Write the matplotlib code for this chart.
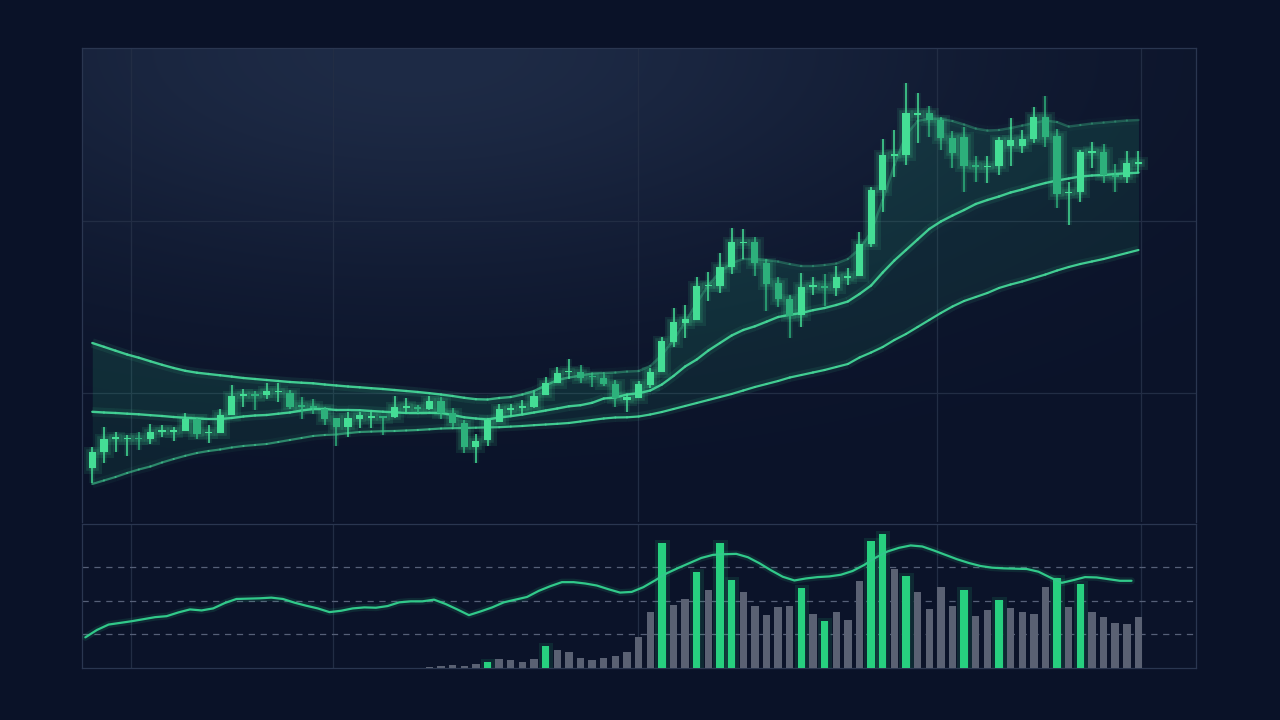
import numpy as np
import matplotlib
matplotlib.use("Agg")
import matplotlib.pyplot as plt
from matplotlib import patheffects as pe
from matplotlib.collections import LineCollection
from matplotlib.colors import to_rgba, to_rgb

# ---------------- data ----------------
opens = [132.3, 148.0, 161.0, 160.7, 161.9, 161.3, 168.1, 167.7, 169.3, 181.3,
         166.7, 167.0, 185.3, 204.4, 205.1, 205.0, 207.7, 207.3, 194.6, 193.3,
         191.3, 181.7, 173.3, 181.0, 182.1, 183.3, 183.3, 192.4, 192.3, 191.0,
         199.0, 187.3, 177.3, 152.7, 160.0, 178.3, 190.4, 192.1, 192.7, 205.0,
         216.7, 227.7, 227.7, 223.9, 222.3, 215.7, 199.7, 202.3, 215.0, 228.3,
         258.3, 276.7, 280.0, 313.7, 314.3, 333.3, 356.7, 358.3, 337.3, 316.7,
         301.0, 285.0, 312.9, 313.1, 312.3, 321.7, 324.0, 355.7, 410.3, 444.4,
         445.0, 485.0, 487.3, 480.5, 462.5, 462.7, 434.1, 432.7, 433.7, 454.3,
         454.3, 460.8, 482.7, 464.0, 406.7, 408.3, 446.8, 448.3, 425.3, 423.3,
         436.0]
closes = [147.7, 161.3, 162.2, 161.9, 160.7, 168.0, 169.3, 170.0, 180.7, 166.0,
          167.9, 185.3, 204.3, 205.6, 203.9, 209.0, 208.9, 193.3, 193.4, 192.1,
          181.3, 173.3, 182.3, 185.0, 183.3, 182.1, 193.3, 193.6, 191.1, 199.0,
          187.3, 177.3, 153.3, 159.3, 180.0, 190.7, 191.6, 193.3, 204.0, 217.3,
          227.3, 228.9, 222.3, 222.7, 215.7, 201.7, 203.3, 215.7, 228.3, 259.0,
          277.7, 281.0, 314.3, 314.9, 333.3, 357.7, 357.9, 336.7, 316.0, 300.7,
          284.5, 313.3, 314.1, 311.9, 323.0, 324.0, 356.0, 410.0, 445.3, 445.6,
          487.3, 487.3, 480.0, 462.0, 447.5, 434.0, 432.9, 433.9, 460.0, 459.7,
          460.7, 482.7, 463.3, 406.3, 408.5, 447.7, 448.5, 425.0, 423.0, 437.3,
          437.1]
highs = [152.7, 173.3, 168.3, 164.7, 168.0, 175.7, 174.7, 173.3, 187.3, 183.0,
         175.0, 190.7, 215.0, 211.3, 209.0, 217.3, 216.7, 210.0, 202.7, 200.7,
         193.3, 181.7, 187.7, 187.7, 188.3, 184.0, 204.3, 202.3, 195.0, 204.3,
         202.7, 191.7, 180.0, 165.7, 181.7, 196.0, 196.0, 200.0, 208.3, 223.0,
         233.3, 240.7, 235.0, 227.3, 226.0, 220.0, 206.0, 219.0, 231.7, 262.7,
         292.3, 295.0, 322.7, 327.7, 347.3, 371.7, 370.7, 363.3, 340.7, 322.7,
         305.0, 326.7, 323.0, 326.5, 334.0, 331.7, 368.3, 413.3, 460.8, 470.5,
         517.5, 506.7, 494.0, 483.3, 469.2, 472.7, 444.0, 444.0, 463.3, 481.7,
         470.0, 493.0, 504.0, 471.2, 418.3, 450.3, 458.3, 455.8, 435.7, 449.2,
         449.5]
lows = [116.7, 136.7, 148.3, 144.0, 150.0, 156.0, 162.7, 158.7, 169.3, 160.7,
        156.7, 167.0, 185.3, 193.3, 190.0, 200.7, 198.3, 191.0, 181.0, 186.0,
        175.0, 154.3, 163.3, 172.3, 172.3, 165.0, 181.7, 187.7, 186.7, 190.0,
        180.7, 172.7, 146.7, 137.3, 154.0, 178.3, 184.0, 186.0, 191.7, 205.0,
        216.7, 220.7, 216.7, 213.3, 214.0, 193.3, 188.3, 202.0, 211.7, 228.3,
        252.7, 262.3, 280.0, 299.3, 306.7, 326.0, 340.7, 324.0, 289.3, 292.7,
        261.7, 273.0, 305.0, 294.0, 304.0, 314.7, 323.7, 353.3, 388.3, 423.3,
        435.0, 456.7, 463.3, 450.0, 432.5, 408.0, 418.0, 417.0, 425.0, 434.5,
        447.3, 457.5, 453.3, 392.5, 375.3, 398.3, 432.5, 417.0, 408.3, 416.7,
        426.7]

upper_band = [257, 253.2, 249.3, 245.5, 242.3, 238.7, 235.2, 232, 229.2, 227.3,
              226, 224.7, 223.4, 222, 221, 220, 219, 218, 217.3, 216.7,
              215.5, 214.5, 213.5, 212.7, 211.8, 211, 210, 209, 208, 206.8,
              205.5, 204, 202.2, 200.8, 200.5, 202, 203, 205.5, 209, 214.5,
              220, 222.5, 224.5, 226.5, 227, 227.5, 228.5, 229, 234, 245,
              260, 278, 297, 315, 328, 337, 341, 341, 340, 338.5,
              336, 334, 334, 335, 336.5, 341, 351, 368, 400, 435,
              465, 479, 481.5, 481, 479, 475.5, 471.5, 469.5, 470, 472,
              474.5, 477, 479.5, 478, 473.5, 475, 476.5, 477.5, 478.5, 479.5,
              480]
middle_band = [188.2, 187.5, 187, 186.3, 185.7, 184.8, 184, 183, 182.2, 181.5,
               181, 181, 182, 183.5, 184.5, 185, 186.3, 187.5, 189.5, 191,
               191, 190, 190, 189.8, 189, 188.3, 187.7, 187, 187, 187.2,
               187, 185, 182.7, 181.5, 180.5, 182.5, 183.8, 185.5, 187.5, 189.5,
               191.5, 193.7, 194.8, 197.2, 201.5, 202.5, 205.5, 206.7, 209.5, 215.5,
               224, 233.5, 240.5, 249.5, 257, 264.5, 270, 273.7, 278.3, 283,
               285.2, 287, 289.8, 292, 295, 298.5, 306, 314.5, 327.5, 339.5,
               350, 360.5, 371, 378.5, 384.5, 390, 396, 400, 403.5, 407.5,
               410.5, 414, 417, 419.5, 421.5, 423.5, 424.5, 425, 426, 426.7,
               427.3]
lower_band = [116, 119.5, 123, 127, 130.5, 133.5, 137.5, 141, 144.2, 147,
              149, 150.5, 152.5, 154, 155, 156, 158, 160, 162, 164,
              165, 165.5, 166.8, 168, 168.4, 168.8, 169, 169.5, 170, 170.7,
              171.5, 171.8, 172, 172.3, 172.6, 172.8, 173.4, 174, 174.8, 175.5,
              176.2, 177, 178.5, 180, 181.5, 182.5, 182.7, 183.5, 185.5, 188,
              191, 194, 197, 200, 203, 206, 209.5, 213, 216, 219,
              222.5, 225, 227.5, 230, 233, 236, 242.5, 247.5, 253, 260,
              266, 273, 280, 287, 293.5, 299, 303, 307, 312, 315.5,
              318.5, 322, 325.5, 329.5, 333, 336, 338.5, 341, 344, 347,
              350]

volume = [0] * 28 + [0.1, 0.3, 0.5, 0.9, 0.6, 1.2, 1.7, 2.7, 2.3, 1.9,
                     2.8, 6.5, 5.3, 4.8, 2.9, 2.4, 3.1, 3.7, 4.8, 9.1,
                     16.6, 37.2, 18.7, 20.4, 28.5, 23.2, 37.0, 26.1, 22.7, 18.5,
                     15.7, 18.2, 18.4, 23.8, 16.1, 13.9, 16.5, 14.3, 25.7, 37.8,
                     39.7, 29.4, 27.3, 22.7, 17.5, 24.1, 18.5, 23.1, 15.5, 17.2,
                     20.2, 17.9, 16.7, 16.0, 24.1, 26.6, 18.0, 24.9, 16.6, 15.1,
                     13.3, 13.1, 15.1]
volume_highlight = [34, 39, 49, 52, 54, 55, 61, 63, 67, 68, 70, 75, 78, 83, 85]
volume_line = [9.1, 11.3, 12.9, 13.4, 13.9, 14.5, 15.1, 15.4, 16.5, 17.4,
               17.1, 17.7, 19.3, 20.5, 20.6, 20.7, 20.9, 20.5, 19.4, 18.5,
               17.7, 16.6, 17.0, 17.7, 18.0, 17.9, 18.4, 19.5, 19.8, 19.8,
               20.3, 19.0, 17.4, 15.7, 16.8, 18.0, 19.5, 20.3, 21.1, 22.9,
               24.3, 25.5, 25.5, 25.1, 24.5, 23.4, 22.4, 22.6, 24.0, 26.0,
               28.1, 29.7, 31.2, 32.7, 33.6, 33.8, 33.9, 32.9, 31.1, 29.0,
               27.1, 26.0, 26.6, 27.0, 27.2, 27.7, 28.8, 30.6, 32.8, 34.6,
               35.7, 36.4, 36.1, 34.9, 33.6, 32.3, 31.2, 30.3, 29.8, 29.6,
               29.5, 29.4, 28.6, 26.9, 25.3, 26.1, 27.0, 26.9, 26.4, 25.9,
               25.9]

price_grid = [207, 379]
volume_grid = [10, 20, 30]
time_grid = [3.33, 20.7, 46.95, 72.67, 90.2]

# ---------------- style ----------------
BG = '#0a1228'
BULL = '#44de95'
BEAR = '#2db07b'
BAND = '#44d597'
VOL_GREEN = '#27d07f'
VOL_GRAY = '#5a6173'
GRID = '#222d44'
SPINE = '#2a3650'

o = np.array(opens); c = np.array(closes)
h = np.array(highs); l = np.array(lows)
up_b = np.array(upper_band); mid_b = np.array(middle_band); lo_b = np.array(lower_band)
idx = np.arange(len(c))

fig = plt.figure(figsize=(12.8, 7.2), dpi=100, facecolor=BG)
W, H = 1280, 720
ax = fig.add_axes([82 / W, 1 - 522 / H, (1196 - 82) / W, (522 - 48) / H])
axv = fig.add_axes([82 / W, 1 - 668 / H, (1196 - 82) / W, (668 - 524) / H])

# background gradient of the price panel
gy, gx = np.mgrid[0:1:240j, 0:1:480j]
d = ((gx - 0.30) / 0.62) ** 2 + (gy / 0.62) ** 2
w = np.exp(-1.6 * d)
base = np.array(to_rgb('#0b1329'))
peak = np.array(to_rgb('#1e2b46'))
img = base[None, None, :] + (peak - base)[None, None, :] * w[..., None]
ax.set_facecolor(base)
ax.imshow(img, extent=(0, 1, 0, 1), transform=ax.transAxes, aspect='auto',
          zorder=0, interpolation='bicubic')
axv.set_facecolor('#0b1329')

xlim = (-0.886, 94.95)
for a in (ax, axv):
    a.set_xlim(*xlim)
    a.set_xticks(time_grid)
    a.tick_params(length=0, labelbottom=False, labelleft=False)
    a.set_axisbelow(True)
    for s in a.spines.values():
        s.set_color(SPINE)
        s.set_linewidth(0.9)
ax.spines['bottom'].set_visible(False)

ax.set_ylim(78, 552)
ax.set_yticks(price_grid)
ax.grid(True, color=GRID, lw=0.9, zorder=0.5)

# bands: fill + lines
ax.fill_between(idx, lo_b, up_b, color='#2fcf8c', alpha=0.09, lw=0, zorder=1)
ax.fill_between(idx, mid_b, up_b, color='#2fcf8c', alpha=0.05, lw=0, zorder=1)


def ramp_line(a, x, y, color, alphas, lw, z):
    pts = np.column_stack([x, y])
    segs = np.stack([pts[:-1], pts[1:]], axis=1)
    al = (np.asarray(alphas)[:-1] + np.asarray(alphas)[1:]) / 2
    glow = LineCollection(segs, colors=[to_rgba(color, 0.10 * v) for v in al],
                          linewidths=lw * 4, zorder=z - 0.1, capstyle='butt')
    a.add_collection(glow)
    lc = LineCollection(segs, colors=[to_rgba(color, v) for v in al],
                        linewidths=lw, zorder=z, capstyle='round', joinstyle='round')
    a.add_collection(lc)


ramp_line(ax, idx, up_b, BAND, np.interp(idx, [30, 48], [0.95, 0.32]), 1.7, 3)
ramp_line(ax, idx, mid_b, BAND, np.full(len(idx), 0.95), 1.7, 3)
ramp_line(ax, idx, lo_b, BAND, np.interp(idx, [22, 40], [0.55, 0.95]), 1.6, 3)

# candles
up = c >= o
cols = np.where(up, BULL, BEAR)
body_bottom = np.minimum(o, c)
body_h = np.maximum(np.abs(c - o), 1.8)
wk = ax.vlines(idx, l, h, colors=cols, lw=1.1, zorder=4)
wk.set_path_effects([pe.Stroke(linewidth=4, foreground=BULL, alpha=0.10), pe.Normal()])
bars = ax.bar(idx, body_h, bottom=body_bottom, width=0.62, color=cols, lw=0, zorder=5)
for b in bars:
    b.set_path_effects([pe.Stroke(linewidth=8, foreground=BULL, alpha=0.10),
                        pe.Stroke(linewidth=4, foreground=BULL, alpha=0.14),
                        pe.Normal()])

# volume panel
axv.set_ylim(0, 42.77)
axv.set_yticks(volume_grid)
axv.grid(True, axis='x', color=GRID, lw=0.9, zorder=0.5)
axv.grid(True, axis='y', color='#566078', lw=0.9, linestyle=(0, (5, 4.5)), zorder=0.5)
vcols = [VOL_GREEN if i in volume_highlight else VOL_GRAY for i in idx]
vb = axv.bar(idx, volume, width=0.64, color=vcols, lw=0, zorder=3)
for i, b in zip(idx, vb):
    if i in volume_highlight:
        b.set_path_effects([pe.Stroke(linewidth=5, foreground=VOL_GREEN, alpha=0.12), pe.Normal()])
vl, = axv.plot(idx - 0.6, volume_line, color='#31c98a', lw=1.6, zorder=4,
               solid_capstyle='round')
vl.set_path_effects([pe.Stroke(linewidth=5, foreground='#31c98a', alpha=0.12), pe.Normal()])

fig.savefig('out.png', dpi=100, facecolor=BG)
